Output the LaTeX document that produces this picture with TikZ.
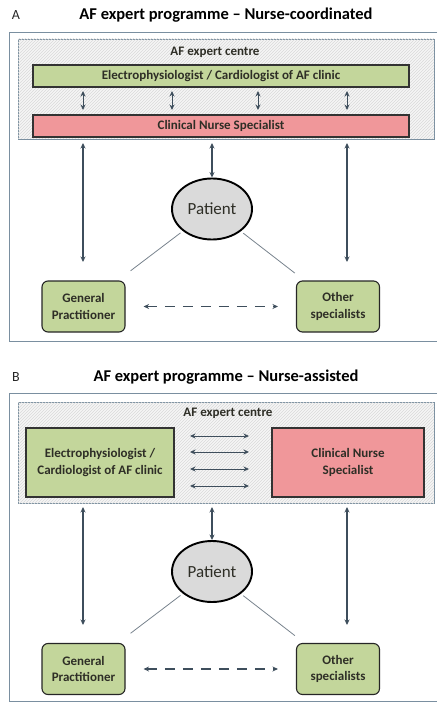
\documentclass[tikz,border=0pt]{standalone}
\usepackage{fontspec}
\setmainfont{Carlito}
\usetikzlibrary{positioning,arrows.meta,calc,shapes.geometric,patterns}
\definecolor{framec}{HTML}{7A8FA0}
\definecolor{linkc}{HTML}{3E4E5C}
\definecolor{docgreen}{HTML}{C3D69B}
\definecolor{nursered}{HTML}{F0979A}
\definecolor{ptgrey}{HTML}{DADADA}
\definecolor{inkc}{HTML}{2E2E26}

\begin{document}
\begin{tikzpicture}[x=1pt, y=-1pt, >={Stealth[length=5.5pt,width=5pt]},
  font=\bfseries\fontsize{13}{16.5}\selectfont, text=inkc,
  title/.style={font=\bfseries\fontsize{16.5}{19}\selectfont, text=black},
  letter/.style={font=\fontsize{14}{15}\selectfont, text=black!85},
  panel/.style={draw=framec, line width=0.9pt},
  centre/.style={draw=framec, line width=0.8pt, fill=gray!7,
    postaction={pattern=north east lines, pattern color=gray!30},
    inner sep=0pt, outer sep=0pt},
  bar/.style={draw=black!80, line width=1.3pt, inner sep=0pt, outer sep=0pt, align=center},
  pt/.style={ellipse, draw=black, line width=1.9pt, fill=ptgrey, inner sep=0pt,
    minimum width=80pt, minimum height=61pt, font=\fontsize{17}{19}\selectfont},
  care/.style={draw=black!85, line width=1.1pt, rounded corners=6pt, fill=docgreen,
    minimum width=83pt, minimum height=51pt, inner sep=0pt, align=center},
  link/.style={<->, draw=linkc, line width=1.2pt},
  tie/.style={draw=linkc!70, line width=0.8pt}]
  \useasboundingbox (0,0) rectangle (437,703);

  % ---- panel A: nurse-coordinated
  \node[letter] (labA) at (16,15) {A};
  \node[title] (titA) at (226,15) {AF expert programme -- Nurse-coordinated};
  \draw[panel] (437,32) -- (9,32) -- (9,341) -- (437,341);
  \node[centre, minimum width=416pt, minimum height=100pt] (ctrA) at (226,89) {};
  \node (cnA) at (215,52) {AF expert centre};
  \node[bar, fill=docgreen, minimum width=376pt, minimum height=22pt] (elA) at (221,76)
    {Electrophysiologist / Cardiologist of AF clinic};
  \node[bar, fill=nursered, minimum width=376pt, minimum height=22pt] (nsA) at (221,126)
    {Clinical Nurse Specialist};
  \foreach \x in {83,172,258,347}
    \draw[link, line width=1pt, shorten <=4pt, shorten >=5pt] (elA.south -| \x,0) -- (nsA.north -| \x,0);
  % patient and care around
  \node[pt] (pA) at (212,209) {Patient};
  \node[care] (gpA) at (83.5,306.5) {General\\Practitioner};
  \node[care] (osA) at (338,306.5) {Other\\specialists};
  \coordinate (gpinA) at (83,262);
  \coordinate (osinA) at (347,262);
  \draw[link, shorten <=4pt] (ctrA.south -| gpinA) -- (gpinA);
  \draw[link, shorten <=4pt] (ctrA.south -| osinA) -- (osinA);
  \draw[link, shorten <=4pt] (ctrA.south -| pA.north) -- (pA.north);
  \draw[tie, shorten <=3pt, shorten >=16pt] (pA) -- (gpA);
  \draw[tie, shorten <=3pt, shorten >=12pt] (pA) -- (osA);
  \draw[link, dash pattern=on 10pt off 8pt, shorten <=18pt, shorten >=18pt] (gpA) -- (osA);

  % ---- panel B: nurse-assisted
  \node[letter] (labB) at (16,377) {B};
  \node[title] (titB) at (226,377) {AF expert programme -- Nurse-assisted};
  \draw[panel] (437,393) -- (9,393) -- (9,701) -- (437,701);
  \node[centre, minimum width=416pt, minimum height=101pt] (ctrB) at (226,452.5) {};
  \node (cnB) at (228,413) {AF expert centre};
  \node[bar, fill=docgreen, minimum width=148pt, minimum height=69pt] (elB) at (100,462.5)
    {Electrophysiologist /\\Cardiologist of AF clinic};
  \node[bar, fill=nursered, minimum width=152pt, minimum height=69pt] (nsB) at (348,462.5)
    {Clinical Nurse\\Specialist};
  \foreach \y in {436,452,469,486}
    \draw[link, line width=1pt, shorten <=16pt, shorten >=23pt] (elB.east |- 0,\y) -- (nsB.west |- 0,\y);
  % patient and care around
  \node[pt] (pB) at (212,571.5) {Patient};
  \node[care] (gpB) at (83.5,669) {General\\Practitioner};
  \node[care] (osB) at (338,669) {Other\\specialists};
  \coordinate (gpinB) at (83,625);
  \coordinate (osinB) at (347,625);
  \draw[link, shorten <=4pt] (ctrB.south -| gpinB) -- (gpinB);
  \draw[link, shorten <=4pt] (ctrB.south -| osinB) -- (osinB);
  \draw[link, shorten <=4pt] (ctrB.south -| pB.north) -- (pB.north);
  \draw[tie, shorten <=3pt, shorten >=16pt] (pB) -- (gpB);
  \draw[tie, shorten <=3pt, shorten >=12pt] (pB) -- (osB);
  \draw[link, dash pattern=on 10pt off 8pt, shorten <=18pt, shorten >=18pt] (gpB) -- (osB);
\end{tikzpicture}
\end{document}
